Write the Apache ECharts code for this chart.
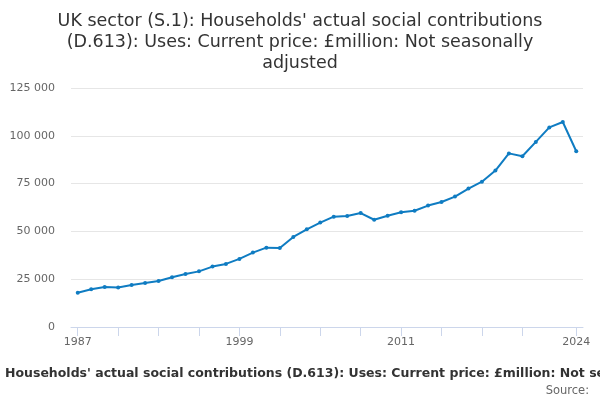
<!DOCTYPE html>
<html>
<head>
<meta charset="utf-8">
<script src="https://cdn.jsdelivr.net/npm/echarts@6/dist/echarts.min.js"></script>
<style>html,body{margin:0;padding:0;background:#fff}#c{width:600px;height:400px}</style>
</head>
<body>
<div id="c"></div>
<script>
var years = [1987,1988,1989,1990,1991,1992,1993,1994,1995,1996,1997,1998,1999,2000,2001,2002,2003,2004,2005,2006,2007,2008,2009,2010,2011,2012,2013,2014,2015,2016,2017,2018,2019,2020,2021,2022,2023,2024];
var values = [17900,19700,20900,20700,22000,23000,24100,26000,27700,29100,31600,33000,35600,38900,41500,41300,47100,51100,54600,57700,58100,59600,56100,58200,60000,60800,63500,65400,68200,72400,76000,81800,90800,89300,96800,104400,107200,91900];
var yTicks = [0,25000,50000,75000,100000,125000];
var xLabelYears = [1987,1999,2011,2024];
var xTickYears = [1987,1990,1993,1996,1999,2002,2005,2008,2011,2014,2017,2020,2024];
var titleText = "UK sector (S.1): Households' actual social contributions\n(D.613): Uses: Current price: £million: Not seasonally\nadjusted";
var subText = "Households' actual social contributions (D.613): Uses: Current price: £million: Not seasonally adjusted";
var sourceText = "Source:";

var chart = echarts.init(document.getElementById('c'), null, {renderer:'canvas'});
function fmt(v){ return String(v).replace(/\B(?=(\d{3})+(?!\d))/g, ' '); }
var pts = years.map(function(y,i){ return [y, values[i]]; });
chart.setOption({
  animation:false,
  backgroundColor:'#fff',
  textStyle:{fontFamily:'DejaVu Sans'},
  title:{
    text:titleText, left:'center', top:6,
    textStyle:{fontFamily:'DejaVu Sans', fontSize:17.5, fontWeight:'normal', color:'#333', lineHeight:21}
  },
  graphic:[
    {type:'text', left:5, top:367, style:{text:subText, fontFamily:'DejaVu Sans', fontSize:12.5, fontWeight:'bold', fill:'#333'}},
    {type:'text', right:11, top:385, style:{text:sourceText, fontFamily:'DejaVu Sans', fontSize:11.5, fill:'#666'}}
  ],
  grid:{left:71, right:17, top:88, bottom:73, containLabel:false},
  xAxis:{
    type:'value', min:1986.5, max:2024.5,
    axisLine:{show:true, onZero:false, lineStyle:{color:'#ccd6eb', width:1}},
    axisTick:{show:true, length:9, lineStyle:{color:'#ccd6eb'}, customValues:xTickYears},
    axisLabel:{color:'#666', fontSize:11, fontFamily:'DejaVu Sans', margin:10, customValues:xLabelYears, formatter:function(v){return String(v);}},
    splitLine:{show:false}
  },
  yAxis:{
    type:'value', min:0, max:125000, interval:25000,
    axisLine:{show:false}, axisTick:{show:false},
    axisLabel:{color:'#666', fontSize:11, fontFamily:'DejaVu Sans', margin:16, padding:[4,0,0,0], formatter:function(v){return fmt(v);}},
    splitLine:{lineStyle:{color:'#e6e6e6', width:1}}
  },
  series:[{
    type:'line', data:pts, color:'#0f7cc2',
    lineStyle:{width:2, color:'#0f7cc2'},
    symbol:'circle', symbolSize:4,
    itemStyle:{color:'#0f7cc2'}
  }]
});
</script>
</body>
</html>
